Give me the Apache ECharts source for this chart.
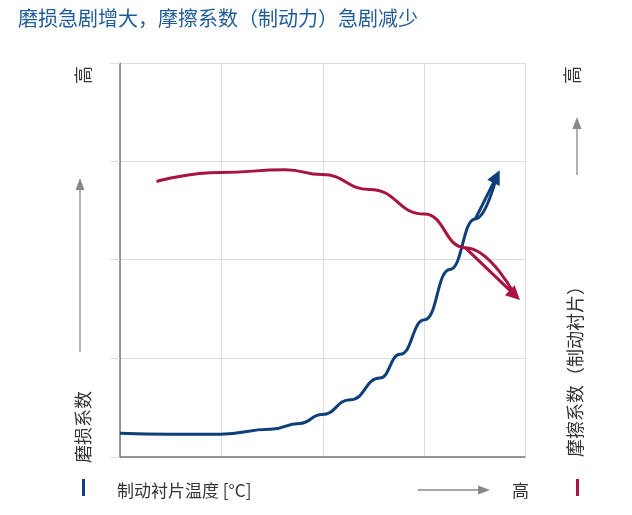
<!DOCTYPE html><html><head><meta charset="utf-8">
<script src="https://cdn.jsdelivr.net/npm/echarts@6/dist/echarts.min.js"></script>
<style>html,body{margin:0;padding:0;background:#fff}#c{width:632px;height:515px}</style></head><body><div id="c"></div>
<script>
const title = '磨损急剧增大，摩擦系数（制动力）急剧减少';
const xLabel = '制动衬片温度 [°C]';
const leftLabel = '磨损系数';
const rightLabel = '摩擦系数（制动衬片）';
const highLabel = '高';
const wearData = [[0,0.24],[0.49,0.23],[0.99,0.23],[1.48,0.28],[1.77,0.34],[1.99,0.43],[2.27,0.58],[2.56,0.80],[2.76,1.04],[3.0,1.39],[3.25,1.90],[3.5,2.41],[3.71,2.84]];
const frictionData = [[0.36,2.79],[0.99,2.88],[1.63,2.91],[1.99,2.86],[2.46,2.71],[3.0,2.46],[3.4,2.12],[3.89,1.64]];
const BLUE='#0f3f78', RED='#a8133f', TXT='#333', GR='#888';
const F='"Noto Sans CJK SC", sans-serif';
function tail(d){return [d[d.length-2],d[d.length-1]];}
function arrowG(x1,y1,x2,y2){
  const ang=Math.atan2(y2-y1,x2-x1),L=12,W=4.5;
  const bx=x2-L*Math.cos(ang),by=y2-L*Math.sin(ang);
  return [{type:'line',shape:{x1,y1,x2:bx,y2:by},style:{stroke:GR,lineWidth:1.3}},
    {type:'polygon',shape:{points:[[x2,y2],[bx-W*Math.sin(ang),by+W*Math.cos(ang)],[bx+W*Math.sin(ang),by-W*Math.cos(ang)]]},style:{fill:GR}}];
}
function vtext(x,y,t,size){return {type:'text',x,y,rotation:Math.PI/2,style:{text:t,font:size+'px '+F,fill:TXT,textAlign:'left',textVerticalAlign:'middle'}};}
const chart=echarts.init(document.getElementById('c'));
chart.setOption({
  animation:false,
  grid:{left:120,top:63,width:405,height:394},
  xAxis:{type:'value',min:0,max:3.99,interval:1,axisLabel:{show:false},axisTick:{show:false},
    axisLine:{lineStyle:{color:'#777',width:1.5}},splitLine:{lineStyle:{color:'#ddd'}}},
  yAxis:{type:'value',min:0,max:3.99,interval:1,axisLabel:{show:false},
    axisTick:{show:true,length:10,lineStyle:{color:'#ddd'}},
    axisLine:{show:true,lineStyle:{color:'#777',width:1.5}},splitLine:{lineStyle:{color:'#ddd'}}},
  series:[
    {type:'line',data:wearData,smooth:0.5,smoothMonotone:'x',symbol:'none',lineStyle:{color:BLUE,width:3}},
    {type:'line',data:frictionData,smooth:0.5,smoothMonotone:'x',symbol:'none',lineStyle:{color:RED,width:3}},
    {type:'lines',coordinateSystem:'cartesian2d',symbol:['none','triangle'],symbolSize:[9,14],
      data:[{coords:tail(wearData),lineStyle:{color:BLUE,width:3,opacity:1}},{coords:tail(frictionData),lineStyle:{color:RED,width:3,opacity:1}}]}
  ],
  graphic:[
    {type:'text',left:18,top:8,style:{text:title,font:'20px '+F,fill:'#1f5a9a'}},
    vtext(83,84,highLabel,18),
    vtext(83,463,leftLabel,18),
    vtext(572,84,highLabel,18),
    vtext(575,457,rightLabel,18),
    ...arrowG(80,352,80,178),
    ...arrowG(577,175,577,117),
    ...arrowG(418,490,490,490),
    {type:'text',x:117,y:491,style:{text:xLabel,font:'17px '+F,fill:TXT,textVerticalAlign:'middle'}},
    {type:'text',x:512,y:491,style:{text:highLabel,font:'17px '+F,fill:TXT,textVerticalAlign:'middle'}},
    {type:'rect',shape:{x:82,y:479,width:3,height:17},style:{fill:BLUE}},
    {type:'rect',shape:{x:576,y:479,width:3,height:17},style:{fill:RED}}
  ]
});
</script></body></html>
